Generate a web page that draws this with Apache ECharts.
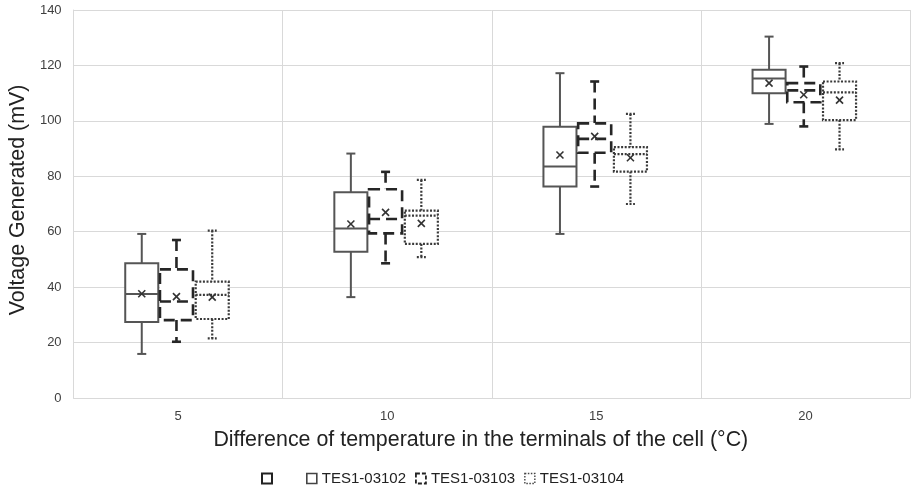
<!DOCTYPE html>
<html>
<head>
<meta charset="utf-8">
<script src="https://cdn.jsdelivr.net/npm/echarts@6/dist/echarts.min.js"></script>
<style>html,body{margin:0;padding:0;background:#fff}#c{width:912px;height:490px}</style>
</head>
<body>
<div id="c"></div>
<script>
// Categories (temperature difference, °C)
const categories = ['5', '10', '15', '20'];
const yTicks = [0, 20, 40, 60, 80, 100, 120, 140];
const seriesNames = ['TES1-03102', 'TES1-03103', 'TES1-03104'];

// Each row: [whiskerLow, Q1, median, Q3, whiskerHigh, mean]
const tes03102 = [
  [15.9, 27.4, 37.5, 48.6, 59.2, 37.6],
  [36.4, 52.8, 61.2, 74.2, 88.2, 62.8],
  [59.2, 76.3, 83.5, 97.9, 117.2, 87.7],
  [98.9, 110.0, 115.3, 118.4, 130.4, 113.6]
];
const tes03103 = [
  [20.3, 28.1, 34.8, 46.4, 57.0, 36.6],
  [48.6, 59.4, 64.6, 75.3, 81.6, 67.0],
  [76.3, 88.5, 93.5, 99.1, 114.2, 94.4],
  [98.0, 106.7, 111.0, 113.6, 119.6, 109.4]
];
const tes03104 = [
  [21.5, 28.5, 37.2, 42.0, 60.4, 36.4],
  [50.8, 55.6, 65.8, 67.6, 78.7, 63.0],
  [70.0, 81.7, 88.0, 90.5, 102.5, 86.7],
  [89.7, 100.3, 110.3, 114.2, 120.8, 107.5]
];

function toData(rows) {
  return rows.map((r, i) => [i].concat(r));
}

const styles = [
  { off: -0.174, color: '#555555', width: 2, dash: null },
  { off: -0.008, color: '#262626', width: 2.6, dash: [11, 6] },
  { off: 0.163, color: '#3a3a3a', width: 2.2, dash: [2, 1.6] }
];

function makeRender(st) {
  return function (params, api) {
    const idx = api.value(0);
    const bw = api.size([1, 0])[0];
    const cx = api.coord([idx, 0])[0] + st.off * bw;
    const w = 0.158 * bw;
    const yy = k => api.coord([idx, api.value(k)])[1];
    const lo = yy(1), q1 = yy(2), md = yy(3), q3 = yy(4), hi = yy(5), mn = yy(6);
    const cap = 4.5;
    const ls = { stroke: st.color, lineWidth: st.width, lineDash: st.dash, fill: null };
    const line = (x1, y1, x2, y2, s) => ({ type: 'line', shape: { x1, y1, x2, y2 }, style: s || ls });
    const xs = { stroke: '#333', lineWidth: 1.6, fill: null };
    const m = 3.5;
    return {
      type: 'group',
      children: [
        line(cx, hi, cx, q3),
        line(cx, q1, cx, lo),
        line(cx - cap, hi, cx + cap, hi),
        line(cx - cap, lo, cx + cap, lo),
        { type: 'rect', shape: { x: cx - w / 2, y: q3, width: w, height: q1 - q3 },
          style: { fill: '#fff', stroke: st.color, lineWidth: st.width, lineDash: st.dash } },
        line(cx - w / 2, md, cx + w / 2, md),
        line(cx - m, mn - m, cx + m, mn + m, xs),
        line(cx - m, mn + m, cx + m, mn - m, xs)
      ]
    };
  };
}

const allRows = [tes03102, tes03103, tes03104];
const series = allRows.map((rows, i) => ({
  name: seriesNames[i],
  type: 'custom',
  renderItem: makeRender(styles[i]),
  encode: { x: 0, y: [1, 2, 3, 4, 5, 6] },
  itemStyle: { color: '#fff', borderColor: styles[i].color },
  data: toData(rows),
  z: 2 + i
}));
series.push({ name: ' ', type: 'custom', renderItem: () => ({ type: 'group', children: [] }), data: [] });

const chart = echarts.init(document.getElementById('c'), null, { renderer: 'canvas' });
const legendIcon = (type, color, width) => ({
  color: '#fff', borderColor: color, borderWidth: width, borderType: type
});
chart.setOption({
  animation: false,
  backgroundColor: '#fff',
  grid: { left: 70, right: 2, top: 10, bottom: 92, containLabel: false },
  legend: [
    {
      left: 256, top: 466, itemWidth: 10, itemHeight: 10, icon: 'rect', itemGap: 10,
      selectedMode: false,
      textStyle: { fontFamily: 'Liberation Sans, Arial', fontSize: 15, color: '#222' },
      data: [{ name: ' ', itemStyle: legendIcon('solid', '#222', 2) }]
    },
    {
      left: 301, top: 466, itemWidth: 10, itemHeight: 10, icon: 'rect', itemGap: 9,
      selectedMode: false,
      textStyle: { fontFamily: 'Liberation Sans, Arial', fontSize: 15, color: '#222' },
      data: [
        { name: seriesNames[0], itemStyle: legendIcon('solid', '#444', 1.6) },
        { name: seriesNames[1], itemStyle: legendIcon([4, 2], '#222', 1.8) },
        { name: seriesNames[2], itemStyle: legendIcon([1.5, 1.5], '#444', 1.4) }
      ]
    }
  ],
  xAxis: {
    type: 'category',
    data: categories,
    boundaryGap: true,
    name: 'Difference of temperature in the terminals of the cell (°C)',
    nameLocation: 'middle',
    nameGap: 32,
    nameTextStyle: { fontFamily: 'Liberation Sans, Arial', fontSize: 21.4, color: '#222', padding: [0, 22, 0, 0] },
    axisLine: { lineStyle: { color: '#d9d9d9', width: 1 } },
    axisTick: { show: false },
    axisLabel: { fontFamily: 'Liberation Sans, Arial', fontSize: 13, color: '#404040', margin: 12 },
    splitLine: { show: true, lineStyle: { color: '#d9d9d9', width: 1 } }
  },
  yAxis: {
    type: 'value',
    min: yTicks[0],
    max: yTicks[yTicks.length - 1],
    interval: yTicks[1] - yTicks[0],
    name: 'Voltage Generated (mV)',
    nameLocation: 'middle',
    nameGap: 40,
    nameTextStyle: { fontFamily: 'Liberation Sans, Arial', fontSize: 21.4, color: '#222', padding: [0, 0, 0, 8] },
    axisLine: { show: true, lineStyle: { color: '#d9d9d9', width: 1 } },
    axisTick: { show: false },
    axisLabel: { fontFamily: 'Liberation Sans, Arial', fontSize: 13, color: '#404040', margin: 12 },
    splitLine: { show: true, lineStyle: { color: '#d9d9d9', width: 1 } }
  },
  series: series
});
</script>
</body>
</html>
